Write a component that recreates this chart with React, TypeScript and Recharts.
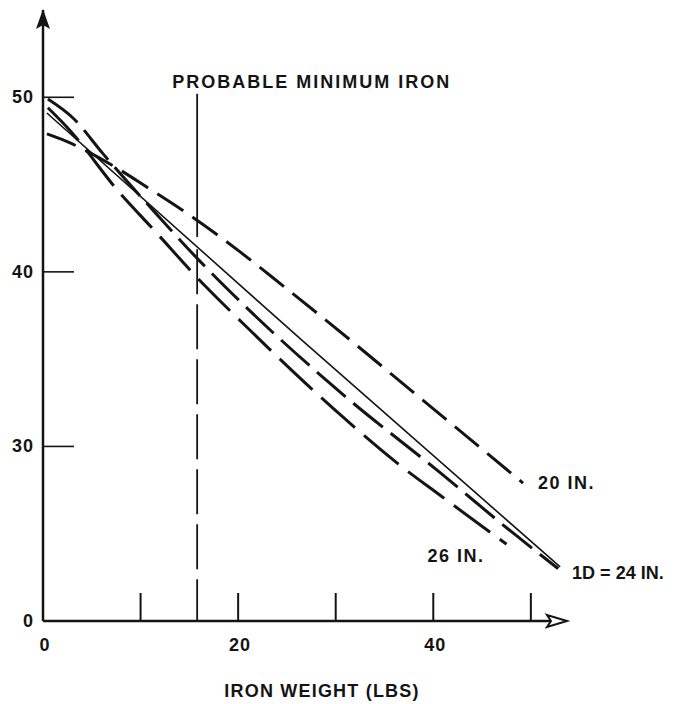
import React from "react";
import { LineChart, Line, XAxis, YAxis, ReferenceLine, ReferenceDot } from "recharts";

const FONT = '"Liberation Sans", Arial, Helvetica, sans-serif';
const INK = "#141414";

// iron weight (lbs) against plotted value, one pair of arrays per bore
const IN20_X = [0.4, 2.3, 7.4, 10.8, 14.9, 20.3, 24.6, 31.7, 38.6, 45.1, 49.2];
const IN20_Y = [47.9, 47.5, 46.0, 44.8, 43.3, 41.1, 39.2, 36.0, 32.8, 29.8, 27.9];

const IN24_X = [0.4, 26.5, 53.0];
const IN24_Y = [49.1, 36.1, 23.1];

const IN24_DASH_X = [0.5, 3.1, 6.1, 11.0, 16.1, 20.4, 30.9, 40.7, 47.6, 52.8];
const IN24_DASH_Y = [49.9, 48.8, 46.8, 43.7, 40.6, 38.2, 32.9, 28.5, 25.3, 23.0];

const IN26_X = [0.5, 2.6, 7.9, 11.2, 16.6, 20.4, 30.9, 36.4, 40.7, 47.5];
const IN26_Y = [49.4, 48.2, 44.5, 42.5, 39.2, 37.1, 31.6, 29.0, 27.2, 24.4];

// broken axis: the lowest tick sits at 20 but reads 0
const Y_TICKS = [20, 30, 40, 50];
const X_TICKS = [0, 10, 20, 30, 40, 50];
const X_LABELLED = [0, 20, 40];
const MIN_IRON = 15.8;
const MIN_IRON_TOP = 50.2;

const pairs = (xs: number[], ys: number[]) => xs.map((x, i) => ({ x, y: ys[i] }));

const textStyle = { fontFamily: FONT, fontSize: 18, fontWeight: 700, fill: INK, letterSpacing: 1 };

function YTick({ x, y, payload }: any) {
  const v = payload.value;
  return (
    <g>
      {v !== 20 && <line x1={x} x2={x + 31} y1={y} y2={y} stroke={INK} strokeWidth={1.6} />}
      <text x={x - 9} y={y + 6} textAnchor="end" style={textStyle}>
        {v === 20 ? "0" : v}
      </text>
    </g>
  );
}

function XTick({ x, y, payload }: any) {
  const v = payload.value;
  return (
    <g>
      {v !== 0 && <line x1={x} x2={x} y1={y} y2={y - 28} stroke={INK} strokeWidth={2} />}
      {X_LABELLED.includes(v) && (
        <text x={x + 2} y={y + 30} textAnchor="middle" style={textStyle}>
          {v}
        </text>
      )}
    </g>
  );
}

const endLabel = (text: string, last: number, dx: number, dy: number, anchor: "start" | "end", spacing = 1) =>
  (props: any) =>
    props.index === last ? (
      <text x={props.x + dx} y={props.y + dy} textAnchor={anchor} style={{ ...textStyle, letterSpacing: spacing }}>
        {text}
      </text>
    ) : (
      <g />
    );

const upArrow = (p: any) => (
  <path d={`M${p.cx},${p.cy - 1} L${p.cx + 7},${p.cy + 19} L${p.cx},${p.cy + 15} L${p.cx - 7},${p.cy + 19} Z`} fill={INK} />
);

const rightArrow = (p: any) => (
  <path
    d={`M${p.cx + 2},${p.cy} L${p.cx - 18},${p.cy - 6} L${p.cx - 14},${p.cy} L${p.cx - 18},${p.cy + 6} Z`}
    fill="#fff"
    stroke={INK}
    strokeWidth={2}
  />
);

const minIronLabel = (p: any) => (
  <text x={p.cx - 25} y={p.cy - 6} style={{ ...textStyle, letterSpacing: 2 }}>
    PROBABLE MINIMUM IRON
  </text>
);

export default function App() {
  return (
    <div style={{ position: "absolute", left: 0, top: 0, background: "#fff" }}>
      <LineChart width={678} height={704} margin={{ top: 10, right: 113, bottom: 0, left: 0 }}>
        <XAxis
          type="number"
          dataKey="x"
          domain={[0, 53.5]}
          ticks={X_TICKS}
          height={83}
          tickSize={0}
          tickMargin={0}
          tick={<XTick />}
          axisLine={{ stroke: INK, strokeWidth: 2.5 }}
          allowDataOverflow
          label={(p: any) => (
            <text
              x={p.viewBox.x + p.viewBox.width / 2 + 18}
              y={p.viewBox.y + 76}
              textAnchor="middle"
              style={{ ...textStyle, letterSpacing: 1.2 }}
            >
              IRON WEIGHT (LBS)
            </text>
          )}
        />
        <YAxis
          type="number"
          domain={[20, 55]}
          ticks={Y_TICKS}
          width={43}
          tickSize={0}
          tickMargin={0}
          tick={<YTick />}
          axisLine={{ stroke: INK, strokeWidth: 2.5 }}
          allowDataOverflow
        />

        <ReferenceLine
          segment={[{ x: MIN_IRON, y: MIN_IRON_TOP }, { x: MIN_IRON, y: 42 }]}
          stroke={INK}
          strokeWidth={1.8}
        />
        <ReferenceLine
          segment={[{ x: MIN_IRON, y: 41.3 }, { x: MIN_IRON, y: 20 }]}
          stroke={INK}
          strokeWidth={1.8}
          strokeDasharray="45 10"
        />
        <ReferenceDot x={MIN_IRON} y={MIN_IRON_TOP} r={0} shape={minIronLabel} />

        <Line
          data={pairs(IN20_X, IN20_Y)}
          dataKey="y"
          type="monotone"
          stroke={INK}
          strokeWidth={3}
          strokeDasharray="31 11"
          dot={false}
          activeDot={false}
          isAnimationActive={false}
          label={endLabel("20 IN.", IN20_X.length - 1, 15, 6, "start", 1.5)}
        />
        <Line
          data={pairs(IN24_X, IN24_Y)}
          dataKey="y"
          type="linear"
          stroke={INK}
          strokeWidth={1.6}
          dot={false}
          activeDot={false}
          isAnimationActive={false}
          label={endLabel("1D = 24 IN.", IN24_X.length - 1, 12, 12, "start", 0)}
        />
        <Line
          data={pairs(IN24_DASH_X, IN24_DASH_Y)}
          dataKey="y"
          type="monotone"
          stroke={INK}
          strokeWidth={3}
          strokeDasharray="38 10"
          dot={false}
          activeDot={false}
          isAnimationActive={false}
        />
        <Line
          data={pairs(IN26_X, IN26_Y)}
          dataKey="y"
          type="monotone"
          stroke={INK}
          strokeWidth={3}
          strokeDasharray="45 12"
          dot={false}
          activeDot={false}
          isAnimationActive={false}
          label={endLabel("26 IN.", IN26_X.length - 1, -22, 18, "end", 1.5)}
        />

        <ReferenceDot x={0} y={55} r={0} shape={upArrow} />
        <ReferenceDot x={53.5} y={20} r={0} shape={rightArrow} />
      </LineChart>
    </div>
  );
}
